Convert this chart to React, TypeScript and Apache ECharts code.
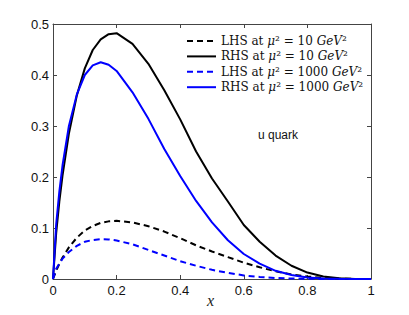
import React, { useEffect, useRef } from "react";
import * as echarts from "echarts";

const xs = [0, 0.01, 0.02, 0.03, 0.05, 0.075, 0.1, 0.125, 0.15, 0.175, 0.2, 0.25, 0.3, 0.35, 0.4, 0.45, 0.5, 0.55, 0.6, 0.65, 0.7, 0.75, 0.8, 0.85, 0.9, 0.95, 1];
const lhs10 = [0, 0.016, 0.030, 0.042, 0.062, 0.081, 0.095, 0.104, 0.110, 0.113, 0.114, 0.111, 0.1035, 0.093, 0.080, 0.066, 0.054, 0.043, 0.032, 0.023, 0.015, 0.009, 0.005, 0.002, 0.0007, 0.0001, 0];
const rhs10 = [0, 0.090, 0.152, 0.203, 0.285, 0.360, 0.413, 0.449, 0.470, 0.480, 0.482, 0.461, 0.422, 0.370, 0.313, 0.250, 0.197, 0.152, 0.106, 0.073, 0.046, 0.026, 0.0126, 0.005, 0.0013, 0.0002, 0];
const lhs1000 = [0, 0.020, 0.030, 0.040, 0.053, 0.065, 0.073, 0.0765, 0.078, 0.0776, 0.0755, 0.068, 0.057, 0.046, 0.035, 0.026, 0.018, 0.012, 0.007, 0.004, 0.002, 0.001, 0.0004, 0.0001, 0, 0, 0];
const rhs1000 = [0, 0.107, 0.172, 0.223, 0.300, 0.362, 0.400, 0.419, 0.425, 0.420, 0.408, 0.366, 0.314, 0.255, 0.202, 0.153, 0.111, 0.076, 0.049, 0.030, 0.016, 0.008, 0.003, 0.001, 0.0003, 0, 0];

const sides = ["LHS", "RHS", "LHS", "RHS"];
const scales = ["10", "10", "1000", "1000"];
const seriesNames = sides.map((s, i) => `${s} at μ² = ${scales[i]} GeV²`);
const seriesData = [lhs10, rhs10, lhs1000, rhs1000];
const seriesColors = ["#000000", "#000000", "#0000ff", "#0000ff"];
const seriesDashed = [true, false, true, false];
const annotation = "u quark";
const xName = "x";

export default function App() {
  const ref = useRef<HTMLDivElement>(null);
  useEffect(() => {
    if (!ref.current) return;
    const chart = echarts.init(ref.current, undefined, { renderer: "svg" });
    const axisColor = "#444";
    const tickFont = { color: "#111", fontSize: 13, fontFamily: "Liberation Sans, Arial, sans-serif" };
    const serif = "DejaVu Serif, serif";
    const baseAxis = {
      type: "value" as const,
      splitLine: { show: false },
      axisLine: { show: true, onZero: false, lineStyle: { color: axisColor, width: 1 } },
      axisTick: { show: true, inside: true, length: 4, lineStyle: { color: axisColor } },
    };
    const option: any = {
      animation: false,
      backgroundColor: "#ffffff",
      grid: { left: 53, right: 38, top: 24, bottom: 36 },
      xAxis: [
        { ...baseAxis, min: 0, max: 1, interval: 0.2, position: "bottom", axisLabel: { ...tickFont, margin: 5 } },
        { ...baseAxis, min: 0, max: 1, interval: 0.2, position: "top", axisLabel: { show: false } },
      ],
      yAxis: [
        { ...baseAxis, min: 0, max: 0.5, interval: 0.1, position: "left", axisLabel: { ...tickFont, margin: 4 } },
        { ...baseAxis, min: 0, max: 0.5, interval: 0.1, position: "right", axisLabel: { show: false } },
      ],
      legend: {
        data: seriesNames,
        orient: "vertical",
        left: 186,
        top: 35,
        padding: 0,
        itemWidth: 29,
        itemHeight: 14,
        itemGap: 3.4,
        itemStyle: { opacity: 0, borderWidth: 0 },
        textStyle: {
          fontFamily: serif,
          fontSize: 12,
          color: "#111",
          rich: {
            n: { fontFamily: serif, fontSize: 12, color: "#111" },
            i: { fontFamily: serif, fontSize: 12, fontStyle: "italic", color: "#111" },
          },
        },
        formatter: (name: string) => {
          const k = seriesNames.indexOf(name);
          return `{n|${sides[k]} at }{i|μ}{n|² = ${scales[k]} }{i|GeV}{n|²}`;
        },
      },
      series: seriesNames.map((name, k) => ({
        name,
        type: "line",
        xAxisIndex: 0,
        yAxisIndex: 0,
        showSymbol: false,
        symbol: "none",
        smooth: false,
        data: xs.map((x, j) => [x, seriesData[k][j]]),
        lineStyle: { color: seriesColors[k], width: 2, type: seriesDashed[k] ? [6, 4] : "solid" },
        itemStyle: { color: seriesColors[k] },
      })),
      graphic: [
        {
          type: "text",
          left: 258,
          top: 129,
          style: { text: annotation, fontSize: 12, fontFamily: "Liberation Sans, Arial, sans-serif", fill: "#111" },
        },
        {
          type: "text",
          left: 207,
          top: 292,
          style: { text: xName, fontSize: 16, fontStyle: "italic", fontFamily: "Liberation Serif, serif", fill: "#222" },
        },
      ],
    };
    chart.setOption(option);
    return () => chart.dispose();
  }, []);
  return <div ref={ref} style={{ position: "fixed", left: 0, top: 0, width: 409, height: 315 }} />;
}
